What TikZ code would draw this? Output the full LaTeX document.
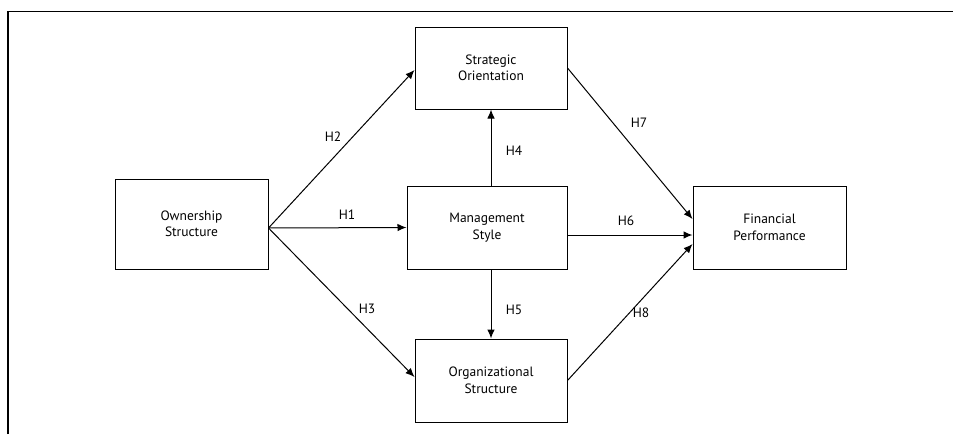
\documentclass[tikz,border=0pt]{standalone}
\usepackage{fontspec}
\setmainfont{PT Sans}
\usetikzlibrary{arrows.meta}
\begin{document}
\begin{tikzpicture}[x=1pt,y=-1pt,
  box/.style={draw, line width=1pt, align=center, inner sep=0pt, font=\fontsize{13.5}{16.5}\selectfont},
  conn/.style={line width=1pt, -{Latex[length=9pt,width=7.5pt]}},
  lbl/.style={font=\fontsize{13.5}{15}\selectfont, inner sep=0pt}]
\useasboundingbox (0,0) rectangle (953,434);
\draw[line width=1.4pt] (8,434) -- (8,11.5) -- (953,11.5);
\node[box, minimum width=153pt, minimum height=90pt] (own) at (191.5,224) {Ownership\\Structure};
\node[box, minimum width=152pt, minimum height=82pt] (str) at (491,68) {Strategic\\Orientation};
\node[box, minimum width=160pt, minimum height=83pt] (mgmt) at (487,227.5) {Management\\Style};
\node[box, minimum width=152pt, minimum height=83pt] (org) at (491,380.5) {Organizational\\Structure};
\node[box, minimum width=153pt, minimum height=83pt] (fin) at (769.5,227.5) {Financial\\Performance};
\coordinate (apex) at ([yshift=-4pt]own.east);
\draw[conn] (apex) -- ([yshift=-2pt]str.west);
\draw[conn] (apex) -- (mgmt.west);
\draw[conn] (apex) -- ([yshift=3.5pt]org.west);
\draw[conn] (mgmt.north -| str.south) -- (str.south);
\draw[conn] (mgmt.south -| org.north) -- (org.north);
\draw[conn] ([yshift=-7.5pt]mgmt.east) -- ([yshift=-7.5pt]fin.west);
\draw[conn] (str.east) -- ([yshift=8.5pt]fin.west);
\draw[conn] (org.east) -- ([yshift=-16.5pt]fin.west);
\node[lbl] (h1) at (347,215) {H1};
\node[lbl] (h2) at (333,137) {H2};
\node[lbl] (h3) at (367,309) {H3};
\node[lbl] (h4) at (514,151) {H4};
\node[lbl] (h5) at (514,310) {H5};
\node[lbl] (h6) at (626,221) {H6};
\node[lbl] (h7) at (639,123) {H7};
\node[lbl] (h8) at (641,313) {H8};
\end{tikzpicture}
\end{document}
